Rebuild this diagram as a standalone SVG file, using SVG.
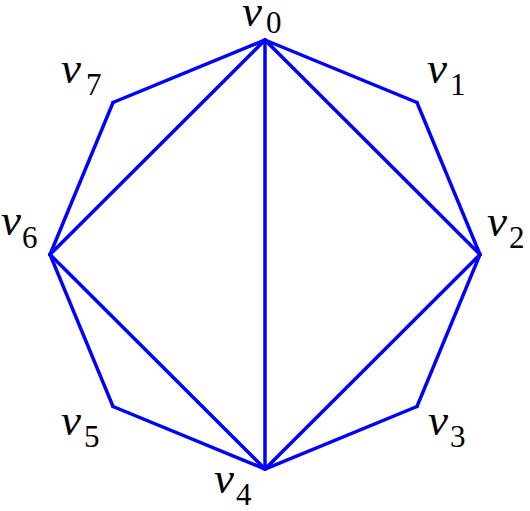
<svg xmlns="http://www.w3.org/2000/svg" width="530" height="511" viewBox="0 0 530 511">
<style>
.e{stroke:#0000ff;stroke-width:3.5;fill:none;stroke-linejoin:miter;stroke-linecap:round}
.v{font-family:"Liberation Serif",serif;font-style:italic;font-size:45px;fill:#000}
.s{font-family:"Liberation Serif",serif;font-size:31px;fill:#000}
.d{fill:#000}
</style>
<rect width="530" height="511" fill="#fff"/>
<g id="vertex-dots">
<circle class="d" cx="265" cy="40" r="1.8"/>
<circle class="d" cx="417" cy="102.5" r="1.8"/>
<circle class="d" cx="480" cy="254.5" r="1.8"/>
<circle class="d" cx="417" cy="406.5" r="1.8"/>
<circle class="d" cx="265" cy="469" r="1.8"/>
<circle class="d" cx="113" cy="406.5" r="1.8"/>
<circle class="d" cx="50" cy="254.5" r="1.8"/>
<circle class="d" cx="113" cy="102.5" r="1.8"/>
</g>
<g id="connectors">
<polygon class="e" points="265,40 417,102.5 480,254.5 417,406.5 265,469 113,406.5 50,254.5 113,102.5"/>
<line class="e" x1="265" y1="40" x2="50" y2="254.5"/>
<line class="e" x1="265" y1="40" x2="265" y2="469"/>
<line class="e" x1="265" y1="40" x2="480" y2="254.5"/>
<line class="e" x1="50" y1="254.5" x2="265" y2="469"/>
<line class="e" x1="480" y1="254.5" x2="265" y2="469"/>
</g>
<g id="v0"><text><tspan class="v" x="242" y="26">v</tspan><tspan class="s" x="266" y="33">0</tspan></text></g>
<g id="v1"><text><tspan class="v" x="427" y="83">v</tspan><tspan class="s" x="450" y="95">1</tspan></text></g>
<g id="v2"><text><tspan class="v" x="487" y="236">v</tspan><tspan class="s" x="509" y="248">2</tspan></text></g>
<g id="v3"><text><tspan class="v" x="428" y="435">v</tspan><tspan class="s" x="450" y="447">3</tspan></text></g>
<g id="v4"><text><tspan class="v" x="214" y="493">v</tspan><tspan class="s" x="236" y="505">4</tspan></text></g>
<g id="v5"><text><tspan class="v" x="61" y="435">v</tspan><tspan class="s" x="84" y="447">5</tspan></text></g>
<g id="v6"><text><tspan class="v" x="1" y="235">v</tspan><tspan class="s" x="22" y="248">6</tspan></text></g>
<g id="v7"><text><tspan class="v" x="61" y="83">v</tspan><tspan class="s" x="86" y="95">7</tspan></text></g>
</svg>
